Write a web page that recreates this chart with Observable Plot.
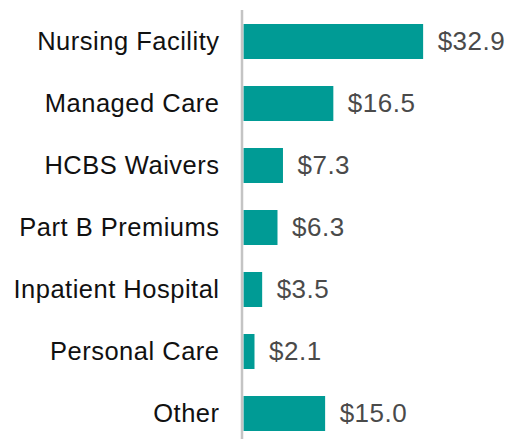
<!DOCTYPE html>
<html>
<head>
<meta charset="utf-8">
<script src="https://cdn.jsdelivr.net/npm/d3@7"></script>
<script src="https://cdn.jsdelivr.net/npm/@observablehq/plot@0.6"></script>
<style>
  html, body { margin: 0; padding: 0; background: #fff; }
  svg { display: block; }
</style>
</head>
<body>
<div id="chart"></div>
<script>
const categories = ["Nursing Facility", "Managed Care", "HCBS Waivers", "Part B Premiums", "Inpatient Hospital", "Personal Care", "Other"];
const values = [32.9, 16.5, 7.3, 6.3, 3.5, 2.1, 15.0];

const data = categories.map((c, i) => ({category: c, value: values[i]}));
const fmt = d => "$" + d3.format(".1f")(d);

const chart = Plot.plot({
  width: 507,
  height: 439,
  marginLeft: 243,
  marginRight: 45,
  marginTop: 24,
  marginBottom: 7,
  style: {fontFamily: "'Liberation Sans', Arial, sans-serif", background: "#fff", letterSpacing: "0.5px"},
  x: {domain: [0, 40], axis: null},
  y: {domain: categories, axis: null, paddingInner: 0.43, paddingOuter: 0},
  marks: [
    Plot.barX(data, {x: "value", y: "category", fill: "#009b95", insetLeft: 0.5}),
    Plot.ruleX([0], {stroke: "#c4c4c4", strokeWidth: 2.5, dx: -1.5, insetTop: -14, insetBottom: -7}),
    Plot.text(data, {x: 0, y: "category", text: "category", textAnchor: "end", dx: -24, fontSize: 25.5, fill: "#111"}),
    Plot.text(data, {x: "value", y: "category", text: d => fmt(d.value), textAnchor: "start", dx: 14, fontSize: 26, fill: "#4a4a4a", style: "letter-spacing:0.8px"})
  ]
});
document.getElementById("chart").appendChild(chart);
</script>
</body>
</html>
